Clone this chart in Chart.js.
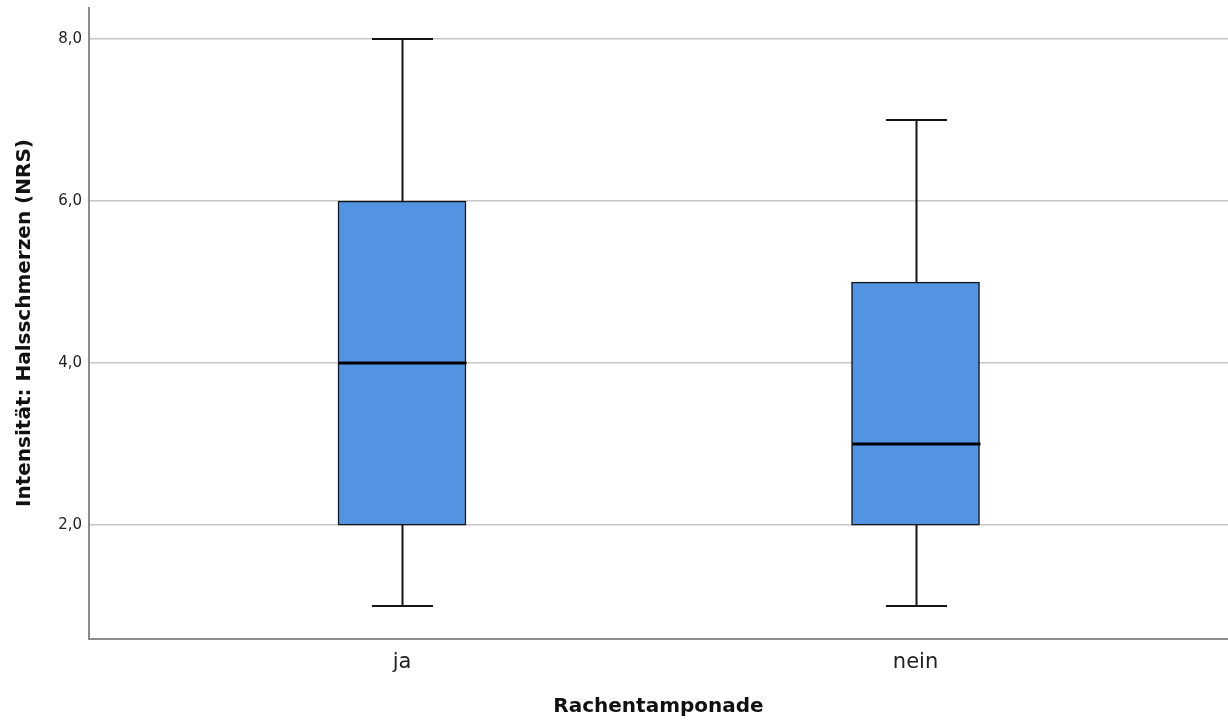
<!DOCTYPE html>
<html>
<head>
<meta charset="utf-8">
<script src="https://cdn.jsdelivr.net/npm/chart.js@4/dist/chart.umd.min.js"></script>
<style>
  html, body { margin: 0; padding: 0; background: #ffffff; }
  #wrap { width: 1228px; height: 722px; position: relative; }
</style>
</head>
<body>
<div id="wrap"><canvas id="c"></canvas></div>
<script>
// Box plot of sore-throat intensity by throat pack use
const categories = ['ja', 'nein'];
const minValues = [1, 1];
const q1Values = [2, 2];
const medianValues = [4, 3];
const q3Values = [6, 5];
const maxValues = [8, 7];
const yTicks = [2, 4, 6, 8];

const boxFill = '#5294e2';
const ink = '#151515';

// whiskers, caps and median lines drawn through the chart's scales
const boxWhiskers = {
  id: 'boxWhiskers',
  afterDatasetsDraw(chart) {
    const { ctx, scales: { x, y } } = chart;
    ctx.save();
    ctx.lineCap = 'butt';
    categories.forEach((_, i) => {
      const cx = Math.round(x.getPixelForValue(i + 1)) + 0.5;
      const capHalf = 30.5;
      const boxHalf = 64;
      ctx.strokeStyle = ink;
      ctx.lineWidth = 2;
      ctx.beginPath();
      ctx.moveTo(cx, y.getPixelForValue(q3Values[i]));
      ctx.lineTo(cx, y.getPixelForValue(maxValues[i]));
      ctx.moveTo(cx, y.getPixelForValue(q1Values[i]));
      ctx.lineTo(cx, y.getPixelForValue(minValues[i]));
      ctx.moveTo(cx - capHalf, y.getPixelForValue(maxValues[i]));
      ctx.lineTo(cx + capHalf, y.getPixelForValue(maxValues[i]));
      ctx.moveTo(cx - capHalf, y.getPixelForValue(minValues[i]));
      ctx.lineTo(cx + capHalf, y.getPixelForValue(minValues[i]));
      ctx.stroke();
      ctx.lineWidth = 3;
      ctx.strokeStyle = '#000000';
      ctx.beginPath();
      const my = y.getPixelForValue(medianValues[i]);
      ctx.moveTo(cx - boxHalf, my);
      ctx.lineTo(cx + boxHalf, my);
      ctx.stroke();
    });
    ctx.restore();
  }
};

new Chart(document.getElementById('c'), {
  type: 'bar',
  data: {
    datasets: [{
      data: categories.map((_, i) => ({ x: i + 1, y: [q1Values[i], q3Values[i]] })),
      backgroundColor: boxFill,
      borderColor: ink,
      borderWidth: 1.5,
      borderSkipped: false,
      barThickness: 128
    }]
  },
  options: {
    responsive: true,
    maintainAspectRatio: false,
    animation: false,
    layout: { padding: { top: 7.5, right: 0, left: 0, bottom: 0 } },
    plugins: { legend: { display: false }, tooltip: { enabled: false } },
    scales: {
      x: {
        type: 'linear',
        offset: false,
        min: 0.3905,
        max: 2.6085,
        afterBuildTicks(scale) { scale.ticks = categories.map((_, i) => ({ value: i + 1 })); },
        afterFit(scale) { scale.height = 83.5; scale.paddingLeft = 0; scale.paddingRight = 0; },
        ticks: {
          callback: (v) => categories[v - 1],
          font: { family: 'DejaVu Sans', size: 21 },
          color: '#222222',
          padding: 11,
          maxRotation: 0
        },
        grid: { display: false, drawTicks: false },
        border: { display: true, color: '#8c8c8c', width: 2 },
        title: {
          display: true,
          text: 'Rachentamponade',
          font: { family: 'DejaVu Sans', size: 20, weight: 'bold' },
          color: '#111111',
          padding: { top: 0, bottom: 3 }
        }
      },
      y: {
        min: 0.6,
        max: 8.39,
        afterBuildTicks(scale) { scale.ticks = yTicks.map(v => ({ value: v })); },
        afterFit(scale) { scale.width = 89; scale.paddingTop = 0; scale.paddingBottom = 0; },
        ticks: {
          callback: (v) => v.toFixed(1).replace('.', ','),
          font: { family: 'DejaVu Sans', size: 15 },
          color: '#222222',
          padding: 7
        },
        grid: { color: '#c6c6c6', lineWidth: 1.5, drawTicks: false },
        border: { display: true, color: '#8c8c8c', width: 2 },
        title: {
          display: true,
          text: 'Intensität: Halsschmerzen (NRS)',
          font: { family: 'DejaVu Sans', size: 20, weight: 'bold' },
          color: '#111111',
          padding: { top: 13, bottom: 0 }
        }
      }
    }
  },
  plugins: [boxWhiskers]
});
</script>
</body>
</html>
